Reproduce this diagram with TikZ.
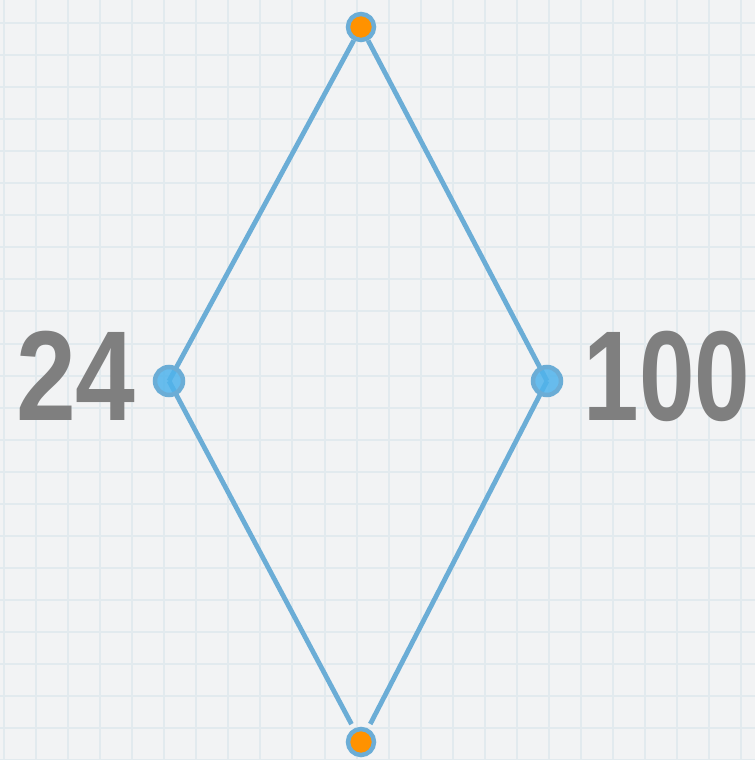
\documentclass[tikz,border=0pt]{standalone}
\usepackage{fontspec}
\setmainfont{Liberation Sans}
\usetikzlibrary{backgrounds}
\definecolor{paper}{HTML}{F2F3F4}
\definecolor{gridc}{HTML}{E2EAEE}
\definecolor{edgec}{HTML}{6BADD6}
\definecolor{dotblue}{HTML}{4FB3EC}
\definecolor{dotorange}{HTML}{FF9200}
\definecolor{numc}{HTML}{7F7F7F}
\tikzset{
  edge/.style={draw=edgec, line width=4.8pt},
  enddot/.style={circle, draw=edgec, line width=4.5pt, fill=dotorange, minimum size=26pt, inner sep=0pt},
  middot/.style={circle, draw=edgec, line width=4.5pt, fill=dotblue, fill opacity=0.85, minimum size=28pt, inner sep=0pt},
  num/.style={text=numc, font=\bfseries\fontsize{128}{128}\selectfont, inner sep=0pt, anchor=base}
}
\begin{document}
\begin{tikzpicture}[x=1pt,y=-1pt]
\useasboundingbox (0,0) rectangle (755,760);
\node[middot] (left) at (169,381) {};
\node[middot] (right) at (547,381) {};
\node[enddot] (top) at (361,27) {};
\node[enddot] (bottom) at (361,742) {};
\begin{pgfonlayer}{background}
\fill[paper] (0,0) rectangle (755,760);
\foreach \i in {0,...,23} {
  \draw[gridc, line width=2pt] ({4+32.05*\i},0) -- ({4+32.05*\i},760);
}
\foreach \j in {0,...,23} {
  \draw[gridc, line width=2pt] (0,{23+32.05*\j}) -- (755,{23+32.05*\j});
}
\draw[edge] (top) -- (left.center);
\draw[edge] (top) -- (right.center);
\draw[edge, shorten >=5pt] (left.center) -- (bottom);
\draw[edge, shorten >=5pt] (right.center) -- (bottom);
\end{pgfonlayer}
\node[num, xscale=0.84] (n24) at (76,420) {24};
\node[num, xscale=0.78] (n100) at (667,420) {100};
\end{tikzpicture}
\end{document}
